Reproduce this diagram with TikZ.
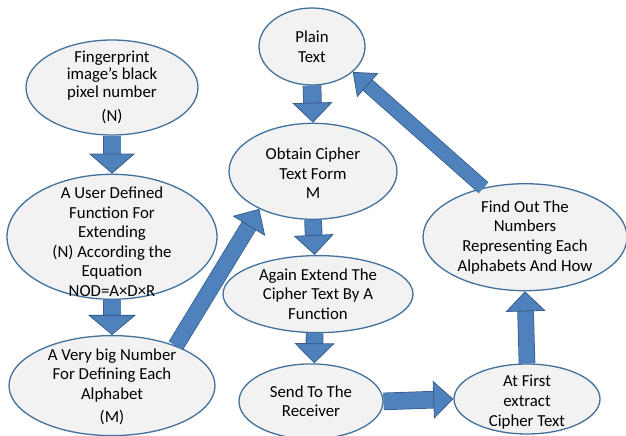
\documentclass[tikz,border=0pt]{standalone}
\usepackage{fontspec}
\setmainfont{Carlito}
\usetikzlibrary{shapes.geometric,arrows.meta,positioning}
\definecolor{blobfill}{HTML}{F2F2F2}
\definecolor{blobedge}{HTML}{41719C}
\definecolor{flowblue}{HTML}{4F81BD}
\definecolor{flowedge}{HTML}{385D8A}
\tikzset{
  blob/.style={ellipse, draw=blobedge, fill=blobfill, line width=1.3pt, inner sep=0pt},
  txt/.style={align=center, font=\fontsize{16.8}{19.6}\selectfont, inner sep=0pt},
  flow/.style 2 args={draw=flowblue, line width=#1,
    -{Triangle[width=#2, length=20pt, line width=0.8pt, color=flowedge, fill=flowblue]},
    preaction={draw=flowedge, line width=#1+1.6pt, -, shorten >=19pt}}
}

\begin{document}
\begin{tikzpicture}[x=1pt, y=-1pt]
  \useasboundingbox (0,0) rectangle (626,436);

  % left column
  \node[blob, minimum width=172pt, minimum height=95pt] (finger) at (112,87.5) {};
  \node[blob, minimum width=210pt, minimum height=125pt, below=38pt of finger] (user) {};
  \node[blob, minimum width=206pt, minimum height=100pt, below=35pt of user] (big) {};

  % middle column
  \node[blob, minimum width=106pt, minimum height=77pt] (plain) at (312,46.5) {};
  \node[blob, minimum width=168pt, minimum height=96pt, below=37pt of plain, xshift=1pt] (obtain) {};
  \node[blob, minimum width=190pt, minimum height=77pt, below=35pt of obtain, xshift=5pt] (again) {};
  \node[blob, minimum width=144pt, minimum height=75pt, below=30pt of again, xshift=-7pt] (send) {};

  % right column
  \node[blob, minimum width=146pt, minimum height=70pt] (first) at (527,399) {};
  \node[blob, minimum width=204pt, minimum height=107pt, above=72pt of first, xshift=-2pt] (find) {};

  % texts
  \node[txt, font=\fontsize{16.8}{17.5}\selectfont] (finger-t) at (finger) {Fingerprint\\image’s black\\pixel number\\[7pt](N)};
  \node[txt, yshift=-5pt] (user-t) at (user) {A User Defined\\Function For\\Extending\\(N) According the\\Equation\\NOD=A×D×R};
  \node[txt, yshift=-1pt] (big-t) at (big) {A Very big Number\\For Defining Each\\Alphabet\\[3pt](M)};
  \node[txt] (plain-t) at (plain) {Plain\\Text};
  \node[txt, yshift=-2pt] (obtain-t) at (obtain) {Obtain Cipher\\Text Form\\M};
  \node[txt] (again-t) at (again) {Again Extend The\\Cipher Text By A\\Function};
  \node[txt] (send-t) at (send) {Send To The\\Receiver};
  \node[txt] (find-t) at (find) {Find Out The\\Numbers\\Representing Each\\Alphabets And How};
  \node[txt, yshift=-3pt] (first-t) at (first) {At First\\extract\\Cipher Text};

  % block arrows
  \draw[flow={17pt}{46pt}] (finger.south) -- (user.north);
  \draw[flow={17pt}{48pt}] (user.south) -- (big.north);
  \draw[flow={15pt}{38pt}] (big.32) -- (obtain.215);
  \draw[flow={17pt}{40pt}] (plain.south) -- (obtain.north);
  \draw[flow={16pt}{40pt}] (obtain.south) -- (again.95);
  \draw[flow={16pt}{40pt}] (again.265) -- (send.85);
  \draw[flow={16pt}{38pt}] (send.east) -- (first.west);
  \draw[flow={15pt}{40pt}] (first.north) -- (find.south);
  \draw[flow={13pt}{32pt}] (find.130) -- (plain.328);
\end{tikzpicture}
\end{document}
